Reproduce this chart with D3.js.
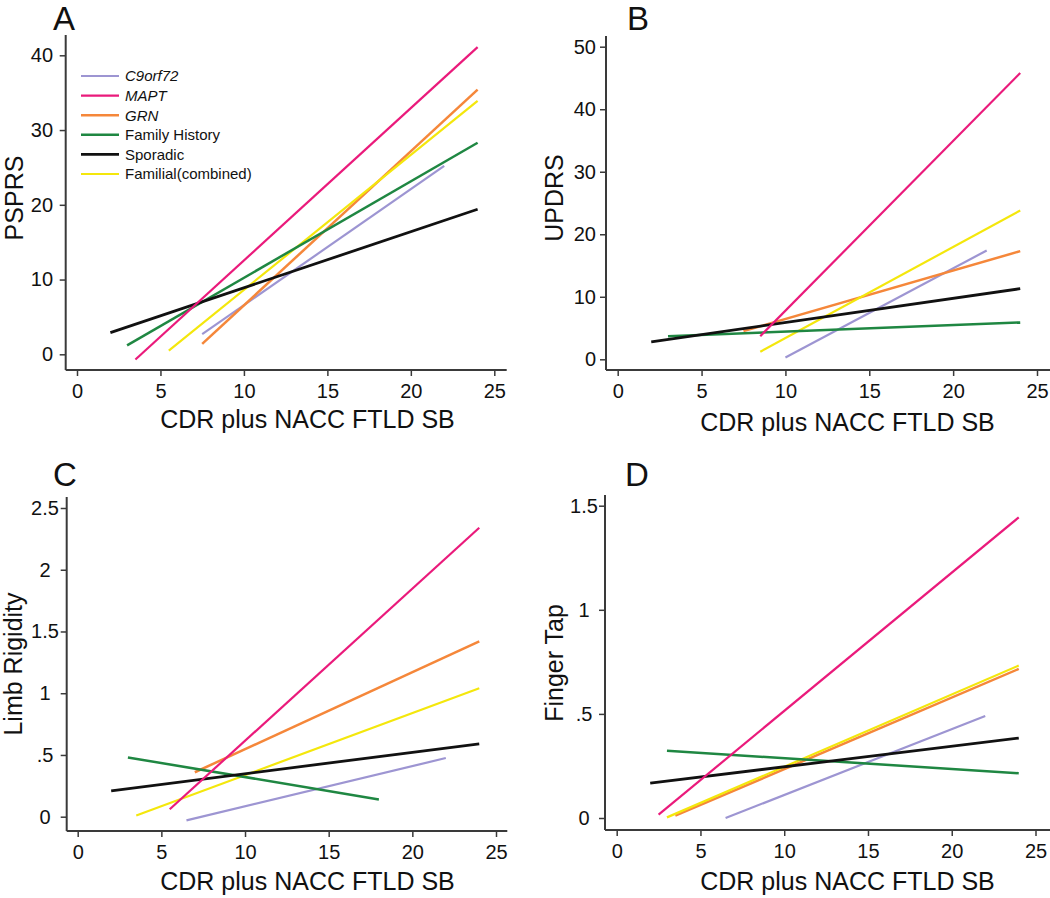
<!DOCTYPE html>
<html>
<head>
<meta charset="utf-8">
<script src="https://cdn.jsdelivr.net/npm/d3@7"></script>
<style>
  html, body { margin: 0; padding: 0; background: #fff; }
  svg { display: block; font-family: Arial, "Liberation Sans", Helvetica, sans-serif; }
</style>
</head>
<body>
<svg id="chart" width="1050" height="898"></svg>
<script>
// ---------- data ----------
const seriesNames = ["C9orf72", "MAPT", "GRN", "Family History", "Sporadic", "Familial(combined)"];
const seriesItalic = [true, true, true, false, false, false];

const xTicks = [0, 5, 10, 15, 20, 25];
const xTickLabels = ["0", "5", "10", "15", "20", "25"];
const xTitle = "CDR plus NACC FTLD SB";

// Panel A: PSPRS
const pspTicks = [0, 10, 20, 30, 40];
const pspTickLabels = ["0", "10", "20", "30", "40"];
const pspXStart = [7.5, 3.5, 7.5, 3, 2, 5.5];
const pspXEnd   = [22, 24, 24, 24, 24, 24];
const pspYStart = [2.7, -0.7, 1.4, 1.2, 2.9, 0.5];
const pspYEnd   = [25.2, 41.1, 35.4, 28.3, 19.4, 33.9];

// Panel B: UPDRS
const updTicks = [0, 10, 20, 30, 40, 50];
const updTickLabels = ["0", "10", "20", "30", "40", "50"];
const updXStart = [10, 8.5, 7.5, 3, 2, 8.5];
const updXEnd   = [22, 24, 24, 24, 24, 24];
const updYStart = [0.3, 3.7, 4.5, 3.7, 2.8, 1.2];
const updYEnd   = [17.4, 45.8, 17.3, 5.9, 11.3, 23.8];

// Panel C: Limb Rigidity
const limbTicks = [0, 0.5, 1, 1.5, 2, 2.5];
const limbTickLabels = ["0", ".5", "1", "1.5", "2", "2.5"];
const limbXStart = [6.5, 5.5, 7, 3, 2, 3.5];
const limbXEnd   = [22, 24, 24, 18, 24, 24];
const limbYStart = [-0.03, 0.06, 0.36, 0.48, 0.21, 0.01];
const limbYEnd   = [0.475, 2.34, 1.42, 0.14, 0.59, 1.04];

// Panel D: Finger Tap
const tapTicks = [0, 0.5, 1, 1.5];
const tapTickLabels = ["0", ".5", "1", "1.5"];
const tapXStart = [6.5, 2.5, 3.5, 3, 2, 3];
const tapXEnd   = [22, 24, 24, 24, 24, 24];
const tapYStart = [0.0, 0.016, 0.011, 0.323, 0.167, 0.003];
const tapYEnd   = [0.49, 1.444, 0.716, 0.215, 0.384, 0.732];

// ---------- styles ----------
const seriesColors = ["#9d95d2", "#ea1a7b", "#f5873a", "#1f8742", "#111111", "#f4e70c"];
const seriesWidths = [2.2, 2.2, 2.5, 2.5, 2.8, 2.2];
const drawOrder = [0, 2, 5, 3, 4, 1];

// ---------- layout ----------
const panels = [
  { letter: "A", lx: 53, ly: 30, yTitle: "PSPRS",
    xr: [77, 494.3], y0: 354.3, y1: 55.3, ydom: [0, 40],
    axX: 65.7, axTop: 35, axY: 370, axRight: 506.7,
    ytLabelX: 53, ytAnchor: "end",
    xTitleX: 307.5, xTitleY: 428, yTitleX: 23, yTitleY: 198,
    ticks: pspTicks, tickLabels: pspTickLabels,
    xs: pspXStart, xe: pspXEnd, ys: pspYStart, ye: pspYEnd, legend: true },
  { letter: "B", lx: 627, ly: 30, yTitle: "UPDRS",
    xr: [617.7, 1037], y0: 359.3, y1: 46.7, ydom: [0, 50],
    axX: 606, axTop: 36, axY: 370, axRight: 1050,
    ytLabelX: 596, ytAnchor: "end",
    xTitleX: 847.5, xTitleY: 431, yTitleX: 563, yTitleY: 198,
    ticks: updTicks, tickLabels: updTickLabels,
    xs: updXStart, xe: updXEnd, ys: updYStart, ye: updYEnd },
  { letter: "C", lx: 53, ly: 486, yTitle: "Limb Rigidity",
    xr: [77.7, 496], y0: 816.7, y1: 508, ydom: [0, 2.5],
    axX: 66.7, axTop: 497, axY: 831, axRight: 507.3,
    ytLabelX: 45, ytAnchor: "middle",
    xTitleX: 307.5, xTitleY: 890, yTitleX: 22, yTitleY: 664,
    ticks: limbTicks, tickLabels: limbTickLabels,
    xs: limbXStart, xe: limbXEnd, ys: limbYStart, ye: limbYEnd },
  { letter: "D", lx: 625, ly: 486, yTitle: "Finger Tap",
    xr: [616.7, 1035.5], y0: 818, y1: 505.7, ydom: [0, 1.5],
    axX: 605, axTop: 495, axY: 830, axRight: 1050,
    ytLabelX: 584, ytAnchor: "middle",
    xTitleX: 847.5, xTitleY: 890, yTitleX: 563, yTitleY: 663,
    ticks: tapTicks, tickLabels: tapTickLabels,
    xs: tapXStart, xe: tapXEnd, ys: tapYStart, ye: tapYEnd }
];

const svg = d3.select("#chart");
const axisColor = "#3a3a3a";

panels.forEach(p => {
  const g = svg.append("g");
  const x = d3.scaleLinear().domain([0, 25]).range(p.xr);
  const y = d3.scaleLinear().domain(p.ydom).range([p.y0, p.y1]);

  // panel letter
  g.append("text").attr("x", p.lx).attr("y", p.ly)
    .attr("font-size", 33).attr("fill", "#111").text(p.letter);

  // x axis
  const xAxis = d3.axisBottom(x).tickValues(xTicks)
    .tickFormat((d, i) => xTickLabels[i]).tickSize(6).tickPadding(8);
  const gx = g.append("g").attr("transform", `translate(0,${p.axY})`).call(xAxis);
  gx.select(".domain").remove();
  gx.selectAll(".tick line").attr("stroke", axisColor).attr("stroke-width", 1.5);
  gx.selectAll(".tick text").attr("font-size", 20).attr("fill", "#111")
    .attr("font-family", "Arial, 'Liberation Sans', sans-serif").attr("dy", "0.71em");
  g.append("line").attr("x1", p.axX).attr("x2", p.axRight)
    .attr("y1", p.axY).attr("y2", p.axY)
    .attr("stroke", axisColor).attr("stroke-width", 2);

  // y axis
  const yAxis = d3.axisLeft(y).tickValues(p.ticks)
    .tickFormat((d, i) => p.tickLabels[i]).tickSize(6).tickPadding(6);
  const gy = g.append("g").attr("transform", `translate(${p.axX},0)`).call(yAxis);
  gy.select(".domain").remove();
  gy.selectAll(".tick line").attr("stroke", axisColor).attr("stroke-width", 1.5);
  gy.selectAll(".tick text").attr("font-size", 20).attr("fill", "#111")
    .attr("font-family", "Arial, 'Liberation Sans', sans-serif")
    .attr("text-anchor", p.ytAnchor).attr("x", p.ytLabelX - p.axX);
  g.append("line").attr("x1", p.axX).attr("x2", p.axX)
    .attr("y1", p.axTop).attr("y2", p.axY)
    .attr("stroke", axisColor).attr("stroke-width", 2);

  // titles
  g.append("text").attr("x", p.xTitleX).attr("y", p.xTitleY)
    .attr("text-anchor", "middle").attr("font-size", 25).attr("fill", "#111").text(xTitle);
  g.append("text")
    .attr("transform", `translate(${p.yTitleX},${p.yTitleY}) rotate(-90)`)
    .attr("text-anchor", "middle").attr("font-size", 25).attr("fill", "#111").text(p.yTitle);

  // fitted lines
  drawOrder.forEach(i => {
    g.append("line")
      .attr("x1", x(p.xs[i])).attr("y1", y(p.ys[i]))
      .attr("x2", x(p.xe[i])).attr("y2", y(p.ye[i]))
      .attr("stroke", seriesColors[i]).attr("stroke-width", seriesWidths[i]);
  });

  // legend
  if (p.legend) {
    const lg = g.append("g");
    seriesNames.forEach((name, i) => {
      const yy = 76 + i * 19.6;
      lg.append("line").attr("x1", 81).attr("x2", 119).attr("y1", yy).attr("y2", yy)
        .attr("stroke", seriesColors[i]).attr("stroke-width", seriesWidths[i]);
      lg.append("text").attr("x", 125).attr("y", yy).attr("dy", "0.36em")
        .attr("font-size", 15).attr("fill", "#111")
        .attr("font-style", seriesItalic[i] ? "italic" : "normal").text(name);
    });
  }
});
</script>
</body>
</html>
